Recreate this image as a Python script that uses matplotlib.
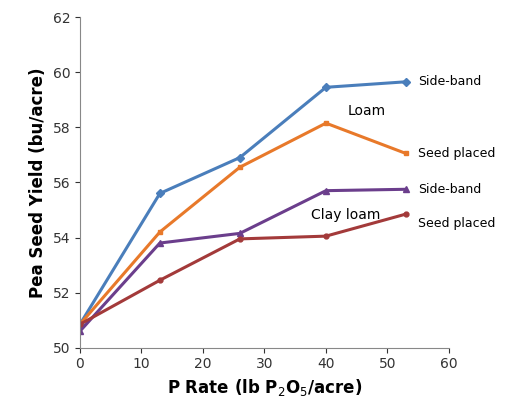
import matplotlib
matplotlib.use("Agg")
import matplotlib.pyplot as plt

x = [0, 13, 26, 40, 53]
side_loam = [50.85, 55.6, 56.9, 59.45, 59.65]
seed_loam = [50.85, 54.2, 56.55, 58.15, 57.05]
side_clay = [50.6, 53.8, 54.15, 55.7, 55.75]
seed_clay = [50.85, 52.45, 53.95, 54.05, 54.85]

fig = plt.figure(figsize=(5.09, 4.15), dpi=100)
ax = fig.add_axes([0.157, 0.162, 0.725, 0.797])
ax.plot(x, side_loam, color="#4a7ebb", lw=2.2, marker="D", ms=4)
ax.plot(x, seed_loam, color="#e8792a", lw=2.2, marker="s", ms=3.5)
ax.plot(x, side_clay, color="#6b3e8c", lw=2.2, marker="^", ms=4.5)
ax.plot(x, seed_clay, color="#a33a3a", lw=2.2, marker="o", ms=3.5)
ax.set_xlim(0, 60)
ax.set_ylim(50, 62)
ax.set_xticks(range(0, 61, 10))
ax.set_yticks(range(50, 63, 2))
for s in ["top", "right"]:
    ax.spines[s].set_visible(False)
for s in ["left", "bottom"]:
    ax.spines[s].set_color("#888888")
ax.tick_params(labelsize=10, colors="#333333", direction="out")
ax.set_xlabel("P Rate (lb P$_2$O$_5$/acre)", fontsize=12, fontweight="bold")
ax.set_ylabel("Pea Seed Yield (bu/acre)", fontsize=12, fontweight="bold")
ax.text(55, 59.65, "Side-band", fontsize=9, va="center", clip_on=False)
ax.text(55, 57.05, "Seed placed", fontsize=9, va="center", clip_on=False)
ax.text(55, 55.75, "Side-band", fontsize=9, va="center", clip_on=False)
ax.text(55, 54.5, "Seed placed", fontsize=9, va="center", clip_on=False)
ax.text(43.5, 58.6, "Loam", fontsize=10, va="center")
ax.text(37.5, 54.8, "Clay loam", fontsize=10, va="center")
fig.savefig("out.png")
